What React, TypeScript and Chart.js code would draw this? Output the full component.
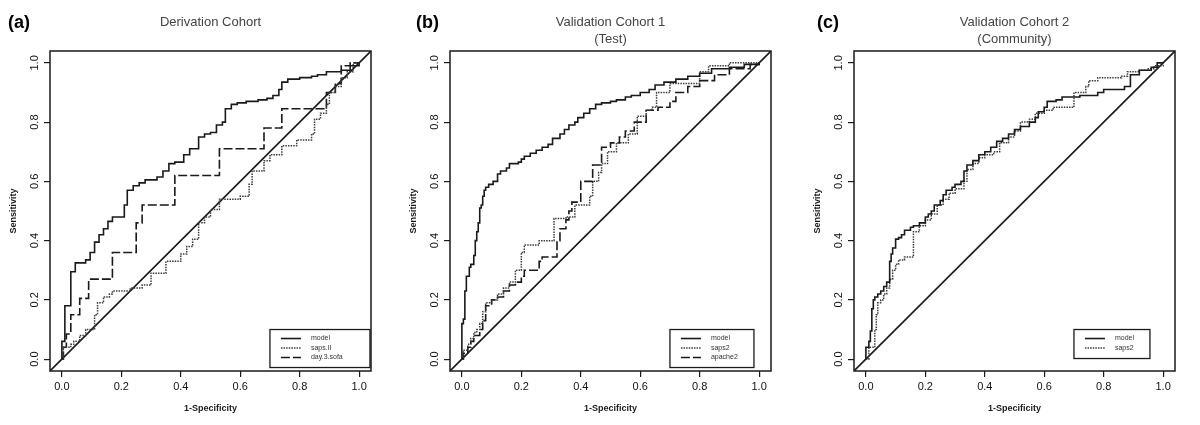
import React, { useEffect, useRef } from "react";
import { Chart, registerables } from "chart.js";

Chart.register(...registerables);

const FONT = '"Liberation Sans", Arial, Helvetica, sans-serif';

// ---- axes ----
const tickValues = [0, 0.2, 0.4, 0.6, 0.8, 1.0];
const tickLabels = ["0.0", "0.2", "0.4", "0.6", "0.8", "1.0"];
const axisMin = -0.04;
const axisMax = 1.04;
const diagX = [axisMin, axisMax];
const diagY = [axisMin, axisMax];

// ---- Panel (a) Derivation Cohort ----
const aModelX = [0, 0, 0.01, 0.03, 0.045, 0.08, 0.095, 0.11, 0.125, 0.14, 0.155, 0.17, 0.21, 0.22, 0.24, 0.26, 0.28, 0.32, 0.34, 0.36, 0.38, 0.41, 0.43, 0.46, 0.48, 0.5, 0.52, 0.54, 0.55, 0.57, 0.59, 0.62, 0.66, 0.69, 0.71, 0.73, 0.74, 0.76, 0.8, 0.84, 0.86, 0.89, 0.94, 0.97, 1.0];
const aModelY = [0, 0.06, 0.18, 0.295, 0.325, 0.335, 0.36, 0.395, 0.42, 0.44, 0.465, 0.48, 0.52, 0.57, 0.585, 0.595, 0.605, 0.615, 0.635, 0.66, 0.665, 0.69, 0.71, 0.75, 0.76, 0.765, 0.79, 0.8, 0.845, 0.86, 0.865, 0.87, 0.875, 0.88, 0.89, 0.91, 0.935, 0.945, 0.95, 0.955, 0.96, 0.97, 0.975, 0.99, 1.0];
const aSapsX = [0, 0.005, 0.03, 0.04, 0.06, 0.08, 0.11, 0.12, 0.14, 0.16, 0.17, 0.23, 0.27, 0.3, 0.35, 0.4, 0.42, 0.44, 0.46, 0.48, 0.5, 0.53, 0.6, 0.63, 0.64, 0.68, 0.7, 0.74, 0.79, 0.84, 0.85, 0.87, 0.89, 0.9, 0.92, 0.94, 0.96, 0.98, 1.0];
const aSapsY = [0, 0.04, 0.05, 0.06, 0.08, 0.1, 0.15, 0.19, 0.21, 0.22, 0.23, 0.24, 0.25, 0.29, 0.33, 0.355, 0.38, 0.405, 0.46, 0.48, 0.505, 0.54, 0.55, 0.59, 0.635, 0.67, 0.69, 0.72, 0.74, 0.76, 0.81, 0.83, 0.86, 0.9, 0.92, 0.95, 0.97, 1.0, 1.0];
const aSofaX = [0, 0.005, 0.015, 0.03, 0.06, 0.09, 0.17, 0.25, 0.27, 0.38, 0.53, 0.68, 0.74, 0.89, 0.92, 0.94, 0.97, 1.0];
const aSofaY = [0, 0.04, 0.085, 0.15, 0.205, 0.27, 0.36, 0.46, 0.52, 0.62, 0.71, 0.78, 0.845, 0.9, 0.93, 0.99, 1.0, 1.0];

// ---- Panel (b) Validation Cohort 1 (Test) ----
const bModelX = [0, 0, 0.005, 0.01, 0.015, 0.025, 0.03, 0.04, 0.045, 0.05, 0.055, 0.06, 0.065, 0.07, 0.075, 0.08, 0.09, 0.105, 0.12, 0.13, 0.15, 0.16, 0.19, 0.2, 0.21, 0.23, 0.25, 0.27, 0.29, 0.305, 0.33, 0.345, 0.36, 0.38, 0.39, 0.41, 0.43, 0.45, 0.47, 0.5, 0.52, 0.55, 0.57, 0.6, 0.63, 0.65, 0.68, 0.72, 0.76, 0.8, 0.84, 0.9, 0.95, 1.0];
const bModelY = [0, 0.12, 0.135, 0.23, 0.28, 0.31, 0.32, 0.35, 0.4, 0.43, 0.46, 0.51, 0.52, 0.55, 0.57, 0.58, 0.59, 0.6, 0.625, 0.635, 0.645, 0.66, 0.665, 0.675, 0.685, 0.695, 0.705, 0.715, 0.725, 0.745, 0.76, 0.775, 0.79, 0.8, 0.815, 0.83, 0.845, 0.86, 0.865, 0.87, 0.875, 0.885, 0.89, 0.9, 0.91, 0.925, 0.935, 0.945, 0.955, 0.965, 0.98, 0.985, 0.995, 1.0];
const bSapsX = [0, 0.005, 0.02, 0.03, 0.04, 0.05, 0.06, 0.07, 0.08, 0.1, 0.12, 0.14, 0.16, 0.18, 0.2, 0.21, 0.26, 0.31, 0.35, 0.38, 0.43, 0.44, 0.46, 0.47, 0.49, 0.52, 0.56, 0.59, 0.62, 0.64, 0.655, 0.7, 0.8, 0.83, 0.9, 1.0];
const bSapsY = [0, 0.03, 0.05, 0.07, 0.09, 0.1, 0.12, 0.16, 0.19, 0.2, 0.22, 0.24, 0.26, 0.3, 0.36, 0.385, 0.4, 0.475, 0.48, 0.52, 0.55, 0.6, 0.63, 0.66, 0.7, 0.73, 0.76, 0.82, 0.84, 0.85, 0.9, 0.93, 0.97, 0.99, 1.0, 1.0];
const bApacheX = [0, 0.005, 0.02, 0.03, 0.04, 0.06, 0.07, 0.08, 0.1, 0.12, 0.14, 0.16, 0.18, 0.2, 0.21, 0.26, 0.27, 0.32, 0.33, 0.35, 0.36, 0.37, 0.4, 0.44, 0.47, 0.5, 0.53, 0.55, 0.58, 0.62, 0.66, 0.7, 0.72, 0.76, 0.8, 0.85, 0.9, 0.97, 1.0];
const bApacheY = [0, 0.02, 0.04, 0.06, 0.08, 0.1, 0.13, 0.18, 0.2, 0.21, 0.23, 0.25, 0.26, 0.28, 0.3, 0.33, 0.345, 0.4, 0.44, 0.47, 0.5, 0.53, 0.6, 0.655, 0.715, 0.73, 0.75, 0.77, 0.8, 0.84, 0.85, 0.87, 0.9, 0.92, 0.94, 0.96, 0.98, 0.995, 1.0];

// ---- Panel (c) Validation Cohort 2 (Community) ----
const cModelX = [0, 0, 0.01, 0.015, 0.02, 0.025, 0.03, 0.04, 0.05, 0.06, 0.07, 0.08, 0.085, 0.09, 0.1, 0.11, 0.12, 0.13, 0.15, 0.16, 0.18, 0.2, 0.21, 0.22, 0.23, 0.25, 0.26, 0.27, 0.29, 0.3, 0.32, 0.33, 0.34, 0.36, 0.38, 0.4, 0.42, 0.44, 0.46, 0.48, 0.5, 0.52, 0.55, 0.57, 0.58, 0.6, 0.61, 0.64, 0.66, 0.72, 0.78, 0.8, 0.87, 0.89, 0.92, 0.96, 0.98, 1.0];
const cModelY = [0, 0.04, 0.06, 0.095, 0.17, 0.2, 0.21, 0.22, 0.23, 0.245, 0.26, 0.33, 0.355, 0.375, 0.405, 0.41, 0.42, 0.435, 0.445, 0.45, 0.46, 0.48, 0.49, 0.5, 0.52, 0.535, 0.555, 0.57, 0.58, 0.59, 0.6, 0.635, 0.655, 0.67, 0.69, 0.7, 0.715, 0.735, 0.745, 0.76, 0.775, 0.785, 0.8, 0.815, 0.835, 0.85, 0.87, 0.875, 0.885, 0.89, 0.9, 0.91, 0.92, 0.96, 0.975, 0.985, 1.0, 1.0];
const cSapsX = [0, 0.01, 0.03, 0.035, 0.04, 0.05, 0.06, 0.07, 0.08, 0.09, 0.1, 0.11, 0.13, 0.16, 0.18, 0.2, 0.22, 0.24, 0.26, 0.28, 0.3, 0.33, 0.34, 0.36, 0.38, 0.4, 0.43, 0.45, 0.48, 0.5, 0.52, 0.55, 0.57, 0.6, 0.63, 0.7, 0.74, 0.75, 0.78, 0.86, 0.88, 0.92, 0.95, 0.97, 1.0];
const cSapsY = [0, 0.04, 0.1, 0.15, 0.19, 0.2, 0.22, 0.24, 0.27, 0.3, 0.32, 0.335, 0.345, 0.43, 0.45, 0.47, 0.49, 0.52, 0.54, 0.56, 0.575, 0.6, 0.64, 0.66, 0.68, 0.69, 0.7, 0.73, 0.75, 0.77, 0.8, 0.81, 0.83, 0.84, 0.85, 0.9, 0.92, 0.94, 0.95, 0.955, 0.97, 0.975, 0.98, 0.99, 1.0];

type Series = { label: string; x: number[]; y: number[]; dash: number[]; color: string; width: number };
type PanelCfg = { tag: string; tagX: number; title: string[]; left: number; legendW: number; legendH: number; series: Series[] };

const SOLID: number[] = [];
const DOTTED = [1.5, 1.1];
const DASHED = [9, 3];
const INK = "#1a1a1a";
const DOT_INK = "#3c3c3c";

const panels: PanelCfg[] = [
  {
    tag: "(a)", tagX: 8, title: ["Derivation Cohort"], left: 0, legendW: 100, legendH: 38,
    series: [
      { label: "model", x: aModelX, y: aModelY, dash: SOLID, color: INK, width: 1.6 },
      { label: "saps.II", x: aSapsX, y: aSapsY, dash: DOTTED, color: DOT_INK, width: 1.5 },
      { label: "day.3.sofa", x: aSofaX, y: aSofaY, dash: DASHED, color: INK, width: 1.6 },
    ],
  },
  {
    tag: "(b)", tagX: 16, title: ["Validation Cohort 1", "(Test)"], left: 400, legendW: 84, legendH: 38,
    series: [
      { label: "model", x: bModelX, y: bModelY, dash: SOLID, color: INK, width: 1.6 },
      { label: "saps2", x: bSapsX, y: bSapsY, dash: DOTTED, color: DOT_INK, width: 1.5 },
      { label: "apache2", x: bApacheX, y: bApacheY, dash: DASHED, color: INK, width: 1.6 },
    ],
  },
  {
    tag: "(c)", tagX: 13, title: ["Validation Cohort 2", "(Community)"], left: 804, legendW: 76, legendH: 29,
    series: [
      { label: "model", x: cModelX, y: cModelY, dash: SOLID, color: INK, width: 1.6 },
      { label: "saps2", x: cSapsX, y: cSapsY, dash: DOTTED, color: DOT_INK, width: 1.5 },
    ],
  },
];

function stepPoints(xs: number[], ys: number[]) {
  const pts = [{ x: xs[0], y: ys[0] }];
  for (let i = 1; i < xs.length; i++) {
    pts.push({ x: xs[i], y: ys[i - 1] });
    pts.push({ x: xs[i], y: ys[i] });
  }
  return pts;
}

function makeDecor(cfg: PanelCfg) {
  return {
    id: "rocDecor",
    afterDraw(chart: any) {
      const { ctx, chartArea: ca } = chart;
      const xs = chart.scales.x;
      const ys = chart.scales.y;
      ctx.save();
      // box
      ctx.strokeStyle = INK;
      ctx.lineWidth = 1.5;
      ctx.setLineDash([]);
      ctx.strokeRect(ca.left, ca.top, ca.right - ca.left, ca.bottom - ca.top);
      // legend
      const lx = xs.getPixelForValue(0.7);
      const ly = ys.getPixelForValue(0.1);
      ctx.fillStyle = "#fff";
      ctx.fillRect(lx, ly, cfg.legendW, cfg.legendH);
      ctx.lineWidth = 1.3;
      ctx.strokeStyle = INK;
      ctx.strokeRect(lx, ly, cfg.legendW, cfg.legendH);
      cfg.series.forEach((s, i) => {
        const ry = ly + 9 + i * 9.5;
        ctx.beginPath();
        ctx.setLineDash(s.dash);
        ctx.strokeStyle = s.color;
        ctx.lineWidth = s.width;
        ctx.moveTo(lx + 11, ry);
        ctx.lineTo(lx + 31, ry);
        ctx.stroke();
        ctx.setLineDash([]);
        ctx.fillStyle = "#333";
        ctx.font = `7px ${FONT}`;
        ctx.textAlign = "left";
        ctx.textBaseline = "middle";
        ctx.fillText(s.label, lx + 41, ry);
      });
      // title
      const cx = (ca.left + ca.right) / 2;
      ctx.fillStyle = "#444";
      ctx.font = `13px ${FONT}`;
      ctx.textAlign = "center";
      ctx.textBaseline = "middle";
      cfg.title.forEach((t, i) => ctx.fillText(t, cx, 22.5 + i * 17));
      // tag
      ctx.fillStyle = "#000";
      ctx.font = `bold 18px ${FONT}`;
      ctx.textAlign = "left";
      ctx.fillText(cfg.tag, cfg.tagX, 23.5);
      ctx.restore();
    },
  };
}

function axisOpts(isX: boolean, titleText: string) {
  return {
    type: "linear",
    min: axisMin,
    max: axisMax,
    afterBuildTicks: (s: any) => {
      s.ticks = tickValues.map((v) => ({ value: v }));
    },
    afterFit: (s: any) => {
      if (isX) s.height = 54;
      else s.width = 50;
    },
    grid: { drawOnChartArea: false, drawTicks: true, tickLength: 6, color: INK, lineWidth: 1.2 },
    border: { display: false },
    ticks: {
      autoSkip: false,
      minRotation: isX ? 0 : 90,
      maxRotation: isX ? 0 : 90,
      crossAlign: isX ? "near" : "center",
      padding: isX ? 3 : 1,
      color: "#111",
      font: { family: FONT, size: 11 },
      callback: (v: number) => tickLabels[tickValues.indexOf(v)] ?? "",
    },
    title: {
      display: true,
      text: titleText,
      color: "#1a1a1a",
      font: { family: FONT, size: 9, weight: "bold" },
      padding: isX ? { top: 0, bottom: 10.6 } : { top: 8.6, bottom: 0 },
    },
  };
}

function buildConfig(cfg: PanelCfg): any {
  const datasets: any[] = cfg.series.map((s) => ({
    label: s.label,
    data: stepPoints(s.x, s.y),
    borderColor: s.color,
    borderWidth: s.width,
    borderDash: s.dash,
    borderCapStyle: "butt",
    borderJoinStyle: "miter",
    pointRadius: 0,
    fill: false,
    tension: 0,
  }));
  datasets.push({
    label: "reference",
    data: diagX.map((x, i) => ({ x, y: diagY[i] })),
    borderColor: INK,
    borderWidth: 1.6,
    pointRadius: 0,
    fill: false,
    tension: 0,
  });
  return {
    type: "line",
    data: { datasets },
    options: {
      animation: false,
      responsive: false,
      maintainAspectRatio: false,
      devicePixelRatio: 1,
      parsing: true,
      layout: { padding: { left: 0, right: 29, top: 51, bottom: 0 } },
      plugins: { legend: { display: false }, tooltip: { enabled: false }, title: { display: false } },
      scales: { x: axisOpts(true, "1-Specificity"), y: axisOpts(false, "Sensitivity") },
    },
    plugins: [makeDecor(cfg)],
  };
}

function Panel({ cfg }: { cfg: PanelCfg }) {
  const ref = useRef<HTMLCanvasElement>(null);
  useEffect(() => {
    const chart = new Chart(ref.current as HTMLCanvasElement, buildConfig(cfg));
    return () => chart.destroy();
  }, [cfg]);
  return (
    <div style={{ position: "absolute", left: cfg.left, top: 0, width: 400, height: 425 }}>
      <canvas ref={ref} width={400} height={425} style={{ width: 400, height: 425, display: "block" }} />
    </div>
  );
}

export default function App() {
  return (
    <div style={{ position: "absolute", left: 0, top: 0, width: 1200, height: 425, overflow: "hidden", background: "#fff" }}>
      {panels.map((p) => (
        <Panel key={p.tag} cfg={p} />
      ))}
    </div>
  );
}
